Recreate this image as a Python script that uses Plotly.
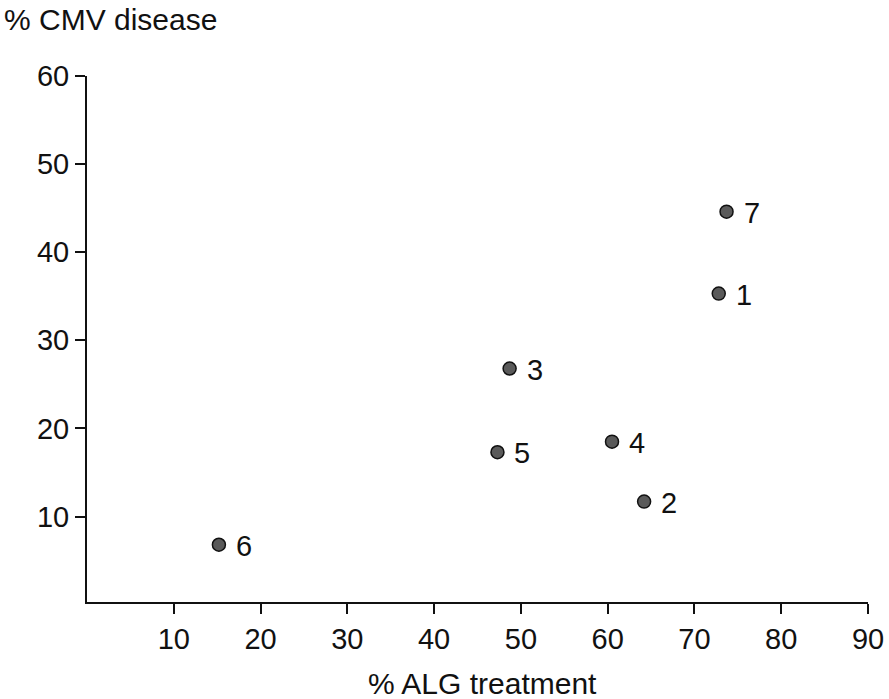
import plotly.graph_objects as go

labels = ["1", "2", "3", "4", "5", "6", "7"]
alg_treatment = [72.8, 64.2, 48.7, 60.5, 47.3, 15.2, 73.7]
cmv_disease = [35.3, 11.7, 26.8, 18.5, 17.3, 6.8, 44.6]
x_ticks = [10, 20, 30, 40, 50, 60, 70, 80, 90]
y_ticks = [10, 20, 30, 40, 50, 60]

FONT = "Liberation Sans, Arial, Helvetica, sans-serif"

fig = go.Figure()
fig.add_trace(go.Scatter(
    x=alg_treatment, y=cmv_disease, mode="markers",
    marker=dict(size=13, color="#5a5a5a", line=dict(color="#111111", width=1.5)),
    showlegend=False, hoverinfo="skip",
))

for lab, xv, yv in zip(labels, alg_treatment, cmv_disease):
    fig.add_annotation(x=xv, y=yv, text=lab, showarrow=False, xanchor="left",
                       yanchor="middle", xshift=15, yshift=-1,
                       font=dict(family=FONT, size=29, color="#111111"))

fig.add_annotation(xref="paper", yref="paper", x=0, y=1.0, xshift=-85, yshift=57,
                   text="% CMV disease", showarrow=False, xanchor="left", yanchor="middle",
                   font=dict(family=FONT, size=30, color="#111111"))
fig.add_annotation(xref="paper", yref="paper", x=0.507, y=0, yshift=-81,
                   text="% ALG treatment", showarrow=False, xanchor="center", yanchor="middle",
                   font=dict(family=FONT, size=30, color="#111111"))

axis_common = dict(showgrid=False, zeroline=False, showline=True, linecolor="#111111",
                   linewidth=2, ticks="outside", ticklen=10, tickwidth=2, tickcolor="#111111",
                   automargin=False,
                   tickfont=dict(family=FONT, size=29, color="#111111"))

fig.update_xaxes(range=[0, 90], tickvals=x_ticks, ticktext=[str(v) for v in x_ticks], **axis_common)
fig.update_yaxes(range=[0.3, 60], tickvals=y_ticks, ticktext=[str(v) for v in y_ticks], **axis_common)

fig.update_layout(
    width=889, height=699, autosize=False,
    margin=dict(l=87, r=21, t=76, b=97),
    paper_bgcolor="white", plot_bgcolor="white",
)

fig.write_html(
    "out.html",
    config={"displayModeBar": False, "responsive": False},
    post_script="document.body.style.margin='0px'; document.body.style.overflow='hidden';",
)
